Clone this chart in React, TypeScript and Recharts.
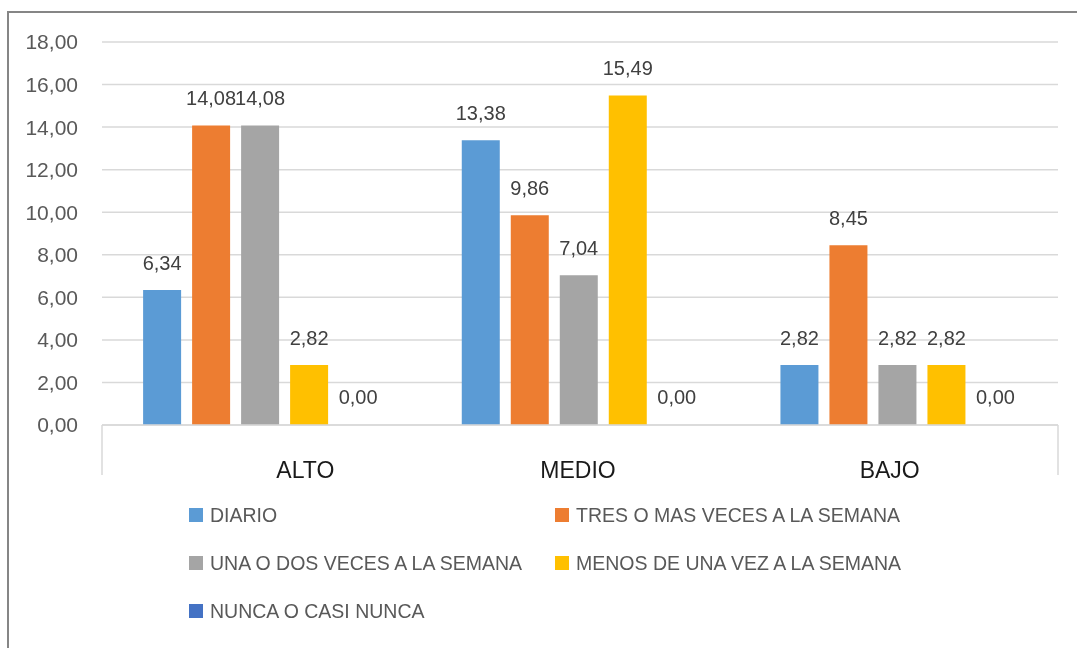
import React from 'react';
import { BarChart, Bar, XAxis, YAxis, CartesianGrid, LabelList, Legend, Rectangle } from 'recharts';

const categories = ['ALTO', 'MEDIO', 'BAJO'];
const diario = [6.34, 13.38, 2.82];
const tresOMas = [14.08, 9.86, 8.45];
const unaODos = [14.08, 7.04, 2.82];
const menosDeUna = [2.82, 15.49, 2.82];
const nuncaOCasi = [0, 0, 0];

const seriesKeys = ['diario', 'tres', 'una', 'menos', 'nunca'];
const seriesNames = [
  'DIARIO',
  'TRES O MAS VECES A LA SEMANA',
  'UNA O DOS VECES A LA SEMANA',
  'MENOS DE UNA VEZ A LA SEMANA',
  'NUNCA O CASI NUNCA',
];
const seriesColors = ['#5B9BD5', '#ED7D31', '#A5A5A5', '#FFC000', '#4472C4'];
const yTicks = [0, 2, 4, 6, 8, 10, 12, 14, 16, 18];

const data = categories.map((c, i) => ({
  name: c,
  diario: diario[i],
  tres: tresOMas[i],
  una: unaODos[i],
  menos: menosDeUna[i],
  nunca: nuncaOCasi[i],
}));

const FONT = '"Liberation Sans", Arial, sans-serif';
const fmt = (v: any) => Number(v).toFixed(2).replace('.', ',');
const catDx = [44, -2, -9];

const CatTick = (props: any) => {
  const { x, y, payload, index, width } = props;
  const half = typeof payload?.offset === 'number' && payload.offset > 0 ? payload.offset : width / (categories.length * 2);
  const last = index === categories.length - 1;
  return (
    <g>
      <text x={x + (catDx[index] || 0)} y={y + 53} textAnchor="middle" fill="#1a1a1a" fontSize={23} fontFamily={FONT}>
        {payload.value}
      </text>
      {index === 0 && <line x1={x - half} x2={x - half} y1={y} y2={y + 50} stroke="#d9d9d9" strokeWidth={1.5} />}
      {last && <line x1={x + half} x2={x + half} y1={y} y2={y + 50} stroke="#d9d9d9" strokeWidth={1.5} />}
    </g>
  );
};

// draws nothing for zero values (so the zero-value label still has an anchor)
const ZeroAwareBar = (props: any) => {
  const v = Array.isArray(props.value) ? props.value[1] - props.value[0] : props.value;
  if (!v) return null;
  return <Rectangle {...props} />;
};

const LegendContent = () => (
  <div style={{ position: 'relative', height: 140, fontFamily: FONT }}>
    {seriesNames.map((n, i) => {
      const col = i % 2;
      const row = Math.floor(i / 2);
      return (
        <div
          key={n}
          style={{
            position: 'absolute',
            left: col === 0 ? 189 : 555,
            top: row * 48,
            height: 20,
            display: 'flex',
            alignItems: 'center',
            whiteSpace: 'nowrap',
          }}
        >
          <span style={{ display: 'inline-block', width: 14, height: 14, background: seriesColors[i], marginRight: 7 }} />
          <span style={{ fontSize: 19.5, color: '#595959' }}>{n}</span>
        </div>
      );
    })}
  </div>
);

export default function App() {
  return (
    <>
      <div
        style={{
          position: 'fixed',
          left: 7,
          top: 11,
          width: 1070,
          height: 637,
          borderTop: '2px solid #868686',
          borderLeft: '2px solid #868686',
          boxSizing: 'border-box',
        }}
      />
      <div style={{ position: 'fixed', left: 0, top: 0, width: 1077, height: 648 }}>
        <BarChart
          width={1077}
          height={648}
          data={data}
          margin={{ top: 42, right: 19, left: 0, bottom: 173 }}
          barCategoryGap="12.9%"
          barGap={11}
          style={{ fontFamily: FONT }}
        >
          <CartesianGrid vertical={false} stroke="#d9d9d9" strokeWidth={1.5} />
          <XAxis
            dataKey="name"
            height={50}
            axisLine={{ stroke: '#d9d9d9', strokeWidth: 1.5 }}
            tickLine={false}
            tickSize={0}
            tickMargin={0}
            tick={<CatTick />}
            interval={0}
          />
          <YAxis
            width={102}
            domain={[0, 18]}
            ticks={yTicks}
            axisLine={false}
            tickLine={false}
            tickSize={0}
            tickMargin={24}
            tickFormatter={fmt}
            tick={{ fill: '#595959', fontSize: 21, fontFamily: FONT }}
          />
          <Legend
            verticalAlign="middle"
            align="center"
            layout="horizontal"
            content={<LegendContent />}
            wrapperStyle={{ top: 505, left: 0, width: 1077 }}
          />
          {seriesKeys.map((k, i) => (
            <Bar
              key={k}
              dataKey={k}
              name={seriesNames[i]}
              fill={seriesColors[i]}
              isAnimationActive={false}
              minPointSize={1}
              shape={<ZeroAwareBar />}
            >
              <LabelList dataKey={k} position="top" offset={20} formatter={fmt} fill="#404040" fontSize={20} fontFamily={FONT} />
            </Bar>
          ))}
        </BarChart>
      </div>
    </>
  );
}
